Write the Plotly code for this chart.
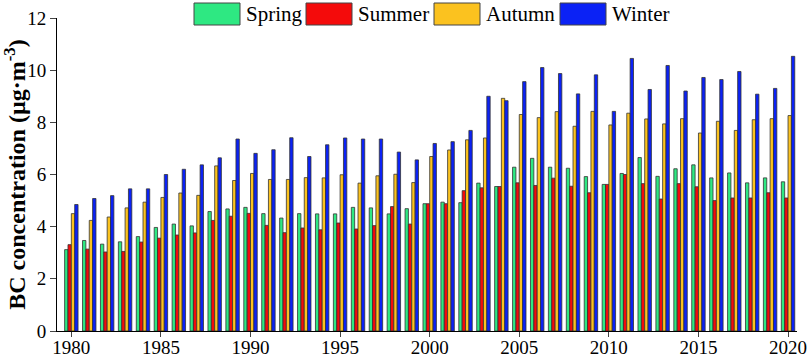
import plotly.graph_objects as go

# роки та сезонні значення BC (µg·m-3)
years = list(range(1980, 2021))

spring = [3.12, 3.47, 3.33, 3.42, 3.62, 3.97, 4.10, 4.03, 4.58, 4.68,
          4.74, 4.50, 4.33, 4.50, 4.49, 4.49, 4.74, 4.72, 4.49, 4.69,
          4.88, 4.94, 4.92, 5.67, 5.54, 6.28, 6.62, 6.28, 6.24, 5.92,
          5.62, 6.04, 6.65, 5.93, 6.22, 6.37, 5.87, 6.06, 5.68, 5.87,
          5.72]
summer = [3.31, 3.14, 3.03, 3.05, 3.41, 3.56, 3.68, 3.76, 4.24, 4.40,
          4.51, 4.05, 3.77, 3.95, 3.88, 4.14, 3.91, 4.04, 4.77, 4.10,
          4.88, 4.88, 5.38, 5.49, 5.54, 5.68, 5.58, 5.86, 5.55, 5.30,
          5.62, 6.00, 5.65, 5.06, 5.65, 5.53, 5.00, 5.10, 5.10, 5.30,
          5.10]
autumn = [4.50, 4.24, 4.37, 4.72, 4.94, 5.12, 5.29, 5.20, 6.33, 5.77,
          6.04, 5.81, 5.81, 5.88, 5.87, 5.99, 5.67, 5.95, 6.01, 5.69,
          6.69, 6.94, 7.33, 7.40, 8.92, 8.30, 8.18, 8.41, 7.85, 8.42,
          7.90, 8.35, 8.13, 7.94, 8.14, 7.59, 8.04, 7.69, 8.10, 8.14,
          8.26]
winter = [4.85, 5.08, 5.19, 5.45, 5.45, 6.00, 6.20, 6.37, 6.64, 7.36,
          6.81, 6.95, 7.41, 6.69, 7.14, 7.40, 7.36, 7.36, 6.86, 6.56,
          7.19, 7.26, 7.69, 9.00, 8.83, 9.56, 10.10, 9.87, 9.09, 9.82,
          8.42, 10.45, 9.26, 10.18, 9.20, 9.72, 9.64, 9.95, 9.08, 9.30,
          10.53]

names = ["Spring", "Summer", "Autumn", "Winter"]
colors = ["#2ee882", "#f40b0b", "#fbc21f", "#0b22f5"]
series = [spring, summer, autumn, winter]

x_ticks = [1980, 1985, 1990, 1995, 2000, 2005, 2010, 2015, 2020]
y_ticks = [0, 2, 4, 6, 8, 10, 12]

font = "Liberation Serif, Times New Roman, serif"

fig = go.Figure()
for name, col, vals in zip(names, colors, series):
    fig.add_trace(go.Bar(x=years, y=vals, name=name,
                         marker=dict(color=col, line=dict(color="#333333", width=0.8)),
                         showlegend=False))

# власна легенда з великими прямокутниками
W, H = 809, 360
ml, mr, mt, mb = 57, 12, 18, 29
pw, ph = W - ml - mr, H - mt - mb


def px_x(p):
    return (p - ml) / pw


def px_y(p):
    return 1 - (p - mt) / ph


box_x = [194, 306, 434, 560]
for bx, name, col in zip(box_x, names, colors):
    fig.add_shape(type="rect", xref="paper", yref="paper",
                  x0=px_x(bx), x1=px_x(bx + 46), y0=px_y(25), y1=px_y(3),
                  fillcolor=col, line=dict(color="#444444", width=1))
    fig.add_annotation(xref="paper", yref="paper", x=px_x(bx + 50), y=px_y(14),
                       text=name, showarrow=False, xanchor="left", yanchor="middle",
                       font=dict(family=font, size=21, color="black"))

fig.update_layout(
    width=W, height=H,
    margin=dict(l=ml, r=mr, t=mt, b=mb),
    plot_bgcolor="white", paper_bgcolor="white",
    barmode="group", bargap=0.25, bargroupgap=0,
    font=dict(family=font, size=19, color="black"),
    xaxis=dict(range=[1979.2, 2020.5], tickvals=x_ticks, ticks="outside", ticklen=5,
               showline=True, linecolor="black", linewidth=1, showgrid=False,
               zeroline=False, tickfont=dict(size=19), automargin=False,
               ticklabelstandoff=-6),
    yaxis=dict(range=[0, 12], tickvals=y_ticks, ticks="outside", ticklen=6,
               showline=True, linecolor="black", linewidth=1, showgrid=False,
               zeroline=False, tickfont=dict(size=19), automargin=False,
               title=dict(text="<b>BC concentration (µg·m<sup>-3</sup>)</b>",
                          font=dict(size=24), standoff=4)),
)

# прибрати відступ body, щоб графік займав вікно повністю
fig.write_html("out.html", config={"displayModeBar": False},
               post_script="document.body.style.margin='0';")
